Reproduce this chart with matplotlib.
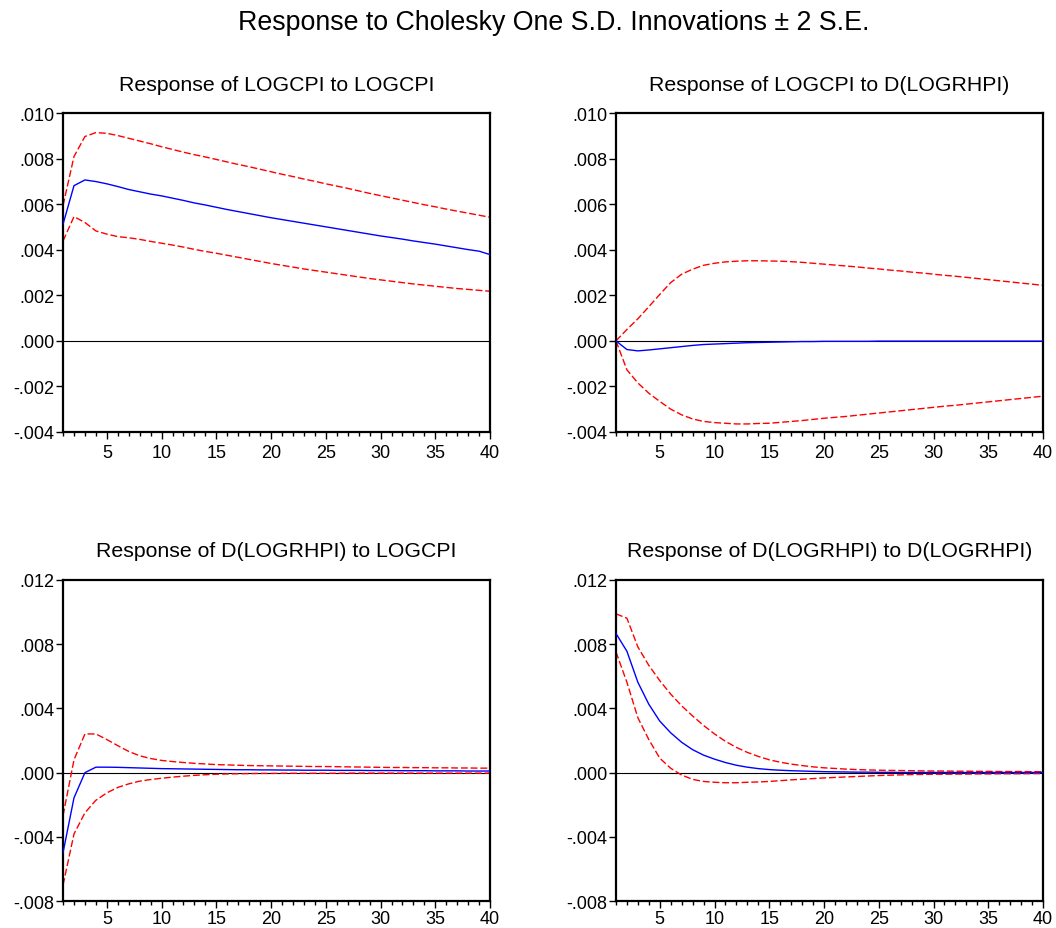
import numpy as np
import matplotlib
matplotlib.use("Agg")
import matplotlib.pyplot as plt
from matplotlib.ticker import MultipleLocator, FuncFormatter

plt.rcParams['font.family'] = ['Liberation Sans', 'DejaVu Sans']

periods = list(range(1, 41))

# Response of LOGCPI to LOGCPI
cpi_cpi = [.00513, .00682, .00707, .00700, .00690, .00678, .00665, .00655, .00645, .00637,
           .00627, .00617, .00606, .00597, .00587, .00577, .00568, .00559, .00550, .00541,
           .00533, .00525, .00517, .00509, .00501, .00493, .00485, .00477, .00469, .00461,
           .00454, .00447, .00439, .00432, .00425, .00417, .00409, .00401, .00394, .00379]
cpi_cpi_hi = [.00595, .00810, .00898, .00915, .00912, .00902, .00890, .00878, .00866, .00853,
              .00841, .00829, .00818, .00808, .00797, .00786, .00775, .00765, .00754, .00743,
              .00732, .00722, .00711, .00701, .00690, .00680, .00670, .00659, .00648, .00638,
              .00628, .00618, .00608, .00598, .00589, .00579, .00570, .00561, .00552, .00543]
cpi_cpi_lo = [.00439, .00546, .00520, .00483, .00469, .00458, .00453, .00446, .00437, .00429,
              .00421, .00412, .00402, .00393, .00385, .00376, .00367, .00358, .00349, .00340,
              .00332, .00324, .00316, .00309, .00302, .00295, .00288, .00281, .00274, .00268,
              .00262, .00256, .00250, .00245, .00240, .00235, .00230, .00226, .00222, .00218]

# Response of LOGCPI to D(LOGRHPI)
cpi_hpi = [0.0, -.00038, -.00044, -.00040, -.00035, -.00030, -.00025, -.00020, -.00016, -.00014,
           -.00012, -.00010, -.00008, -.00007, -.00006, -.00005, -.00004, -.00003, -.00003, -.00002,
           -.00002, -.00002, -.00002, -.00002, -.00001, -.00001, -.00001, -.00001, -.00001, -.00001,
           -.00001, -.00001, -.00001, -.00001, -.00001, -.00001, -.00001, -.00001, -.00001, -.00001]
cpi_hpi_hi = [0.0, .00050, .00097, .00150, .00204, .00256, .00293, .00315, .00332, .00341,
              .00347, .00350, .00352, .00352, .00351, .00350, .00348, .00345, .00341, .00337,
              .00333, .00329, .00325, .00320, .00316, .00311, .00307, .00302, .00298, .00293,
              .00288, .00284, .00279, .00274, .00269, .00264, .00259, .00254, .00249, .00244]
cpi_hpi_lo = [0.0, -.00127, -.00185, -.00230, -.00266, -.00300, -.00325, -.00343, -.00354, -.00359,
              -.00362, -.00365, -.00365, -.00363, -.00362, -.00358, -.00354, -.00350, -.00345, -.00340,
              -.00336, -.00332, -.00327, -.00322, -.00317, -.00312, -.00307, -.00302, -.00297, -.00292,
              -.00287, -.00283, -.00278, -.00273, -.00268, -.00263, -.00258, -.00253, -.00248, -.00243]

# Response of D(LOGRHPI) to LOGCPI
hpi_cpi = [-.00498, -.00157, 0.0, .00034, .00034, .00033, .00031, .00029, .00027, .00025,
           .00024, .00023, .00022, .00021, .00020, .00019, .00018, .00018, .00017, .00017,
           .00016, .00016, .00015, .00015, .00015, .00014, .00014, .00014, .00013, .00013,
           .00013, .00012, .00012, .00012, .00011, .00011, .00011, .00010, .00010, .00010]
hpi_cpi_hi = [-.00267, .00080, .00241, .00241, .00206, .00168, .00132, .00105, .00088, .00076,
              .00069, .00063, .00058, .00054, .00050, .00048, .00046, .00044, .00043, .00042,
              .00041, .00040, .00039, .00038, .00038, .00037, .00036, .00035, .00034, .00033,
              .00032, .00032, .00031, .00031, .00030, .00030, .00029, .00029, .00028, .00028]
hpi_cpi_lo = [-.00700, -.00382, -.00250, -.00172, -.00126, -.00092, -.00070, -.00053, -.00043, -.00035,
              -.00028, -.00022, -.00017, -.00013, -.00010, -.00008, -.00007, -.00006, -.00005, -.00005,
              -.00004, -.00004, -.00004, -.00004, -.00004, -.00004, -.00003, -.00003, -.00003, -.00003,
              -.00003, -.00003, -.00003, -.00003, -.00003, -.00003, -.00003, -.00003, -.00003, -.00003]

# Response of D(LOGRHPI) to D(LOGRHPI)
hpi_hpi = [.00867, .00756, .00563, .00426, .00321, .00248, .00189, .00143, .00109, .00084,
           .00063, .00046, .00034, .00025, .00019, .00015, .00012, .00010, .00008, .00006,
           .00005, .00004, .00003, .00003, .00002, .00002, .00001, .00001, .00001, .00001,
           .00001, .00001, .00001, .00001, .00001, .00001, .00001, .00001, .00001, .00001]
hpi_hpi_hi = [.00989, .00962, .00783, .00668, .00573, .00489, .00416, .00353, .00294, .00241,
              .00195, .00157, .00126, .00101, .00080, .00065, .00053, .00044, .00036, .00030,
              .00026, .00022, .00019, .00017, .00015, .00014, .00013, .00012, .00011, .00010,
              .00010, .00009, .00009, .00008, .00008, .00007, .00007, .00007, .00006, .00006]
hpi_hpi_lo = [.00752, .00563, .00342, .00206, .00090, .00027, -.00015, -.00042, -.00055, -.00060,
              -.00063, -.00063, -.00060, -.00058, -.00055, -.00050, -.00045, -.00041, -.00037, -.00033,
              -.00030, -.00027, -.00024, -.00021, -.00018, -.00016, -.00014, -.00012, -.00011, -.00010,
              -.00010, -.00009, -.00009, -.00008, -.00008, -.00007, -.00007, -.00007, -.00006, -.00006]

titles = ["Response of LOGCPI to LOGCPI",
          "Response of LOGCPI to D(LOGRHPI)",
          "Response of D(LOGRHPI) to LOGCPI",
          "Response of D(LOGRHPI) to D(LOGRHPI)"]
series = [(cpi_cpi, cpi_cpi_hi, cpi_cpi_lo), (cpi_hpi, cpi_hpi_hi, cpi_hpi_lo),
          (hpi_cpi, hpi_cpi_hi, hpi_cpi_lo), (hpi_hpi, hpi_hpi_hi, hpi_hpi_lo)]
ylims = [(-0.004, 0.010), (-0.004, 0.010), (-0.008, 0.012), (-0.008, 0.012)]
ysteps = [0.002, 0.002, 0.004, 0.004]
xpads = [4, 4, 1.5, 1.5]

# axes positions in figure fractions (left, bottom, width, height)
boxes = [(0.0597, 0.534, 0.4044, 0.343), (0.5833, 0.534, 0.4044, 0.343),
         (0.0597, 0.029, 0.4044, 0.3456), (0.5833, 0.029, 0.4044, 0.3456)]


def fmt(v, pos):
    s = f"{v:.3f}"
    if s == "-0.000":
        s = "0.000"
    return s.replace("0.", ".", 1)


fig = plt.figure(figsize=(10.56, 9.29), dpi=100)
fig.text(0.524, 0.975, "Response to Cholesky One S.D. Innovations \u00b1 2 S.E.",
         ha="center", va="center", fontsize=19.3)

for box, title, (mid, hi, lo), ylim, step, xpad in zip(boxes, titles, series, ylims, ysteps, xpads):
    ax = fig.add_axes(box)
    ax.axhline(0, color="black", lw=0.8, zorder=1)
    ax.plot(periods, mid, color="#0000FF", lw=1.0, zorder=3)
    ax.plot(periods, hi, color="#FF0000", lw=1.0, ls=(0, (5, 2)), zorder=2)
    ax.plot(periods, lo, color="#FF0000", lw=1.0, ls=(0, (5, 2)), zorder=2)
    ax.set_xlim(1, 40)
    ax.set_ylim(*ylim)
    ax.xaxis.set_major_locator(MultipleLocator(5))
    ax.xaxis.set_minor_locator(MultipleLocator(1))
    ax.yaxis.set_major_locator(MultipleLocator(step))
    ax.yaxis.set_major_formatter(FuncFormatter(fmt))
    ax.tick_params(axis="both", which="major", direction="out", length=5, width=1,
                   labelsize=13, pad=1, colors="black")
    ax.tick_params(axis="x", which="major", pad=xpad)
    ax.tick_params(axis="x", which="minor", direction="out", length=3, width=1)
    ax.tick_params(top=False, right=False, which="both")
    for sp in ax.spines.values():
        sp.set_linewidth(1.6)
    ax.set_title(title, fontsize=15.3, pad=17)

fig.savefig("out.png", dpi=100)
